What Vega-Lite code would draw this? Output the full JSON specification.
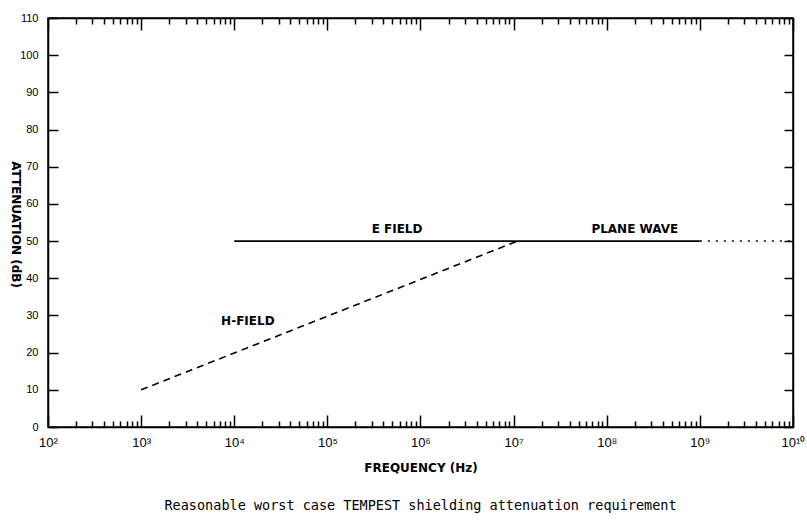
{
  "$schema": "https://vega.github.io/schema/vega-lite/v6.json",
  "width": 745,
  "height": 409,
  "autosize": {"type": "none"},
  "padding": {"left": 48, "top": 18, "right": 14, "bottom": 97},
  "background": "white",
  "config": {
    "view": {"stroke": "black", "strokeWidth": 1.5},
    "axis": {"grid": false, "domainColor": "black", "tickColor": "black", "labelColor": "black", "titleColor": "black", "labelFont": "Liberation Sans", "titleFont": "DejaVu Sans", "labelFontSize": 11, "titleFontSize": 12, "titleFontWeight": "bold", "domainWidth": 1.5, "tickWidth": 1.5}
  },
  "title": {"text": "Reasonable worst case TEMPEST shielding attenuation requirement", "orient": "bottom", "font": "DejaVu Sans Mono", "fontSize": 13.5, "fontWeight": "normal", "color": "black", "offset": 26, "anchor": "middle"},
  "datasets": {
    "lines": [
      {"series": "E FIELD / PLANE WAVE", "freq": 10000, "att": 50},
      {"series": "E FIELD / PLANE WAVE", "freq": 1000000000, "att": 50},
      {"series": "H-FIELD", "freq": 1000, "att": 10},
      {"series": "H-FIELD", "freq": 11000000, "att": 50},
      {"series": "PLANE WAVE extension", "freq": 1000000000, "att": 50},
      {"series": "PLANE WAVE extension", "freq": 10000000000, "att": 50}
    ],
    "labels": [
      {"label": "E FIELD", "freq": 560000, "att": 53.3},
      {"label": "PLANE WAVE", "freq": 200000000, "att": 53.3},
      {"label": "H-FIELD", "freq": 14000, "att": 28.5}
    ]
  },
  "layer": [
    {
      "data": {"name": "lines"},
      "transform": [{"filter": "datum.series === 'E FIELD / PLANE WAVE'"}],
      "mark": {"type": "line", "color": "black", "strokeWidth": 1.6},
      "encoding": {
        "x": {"field": "freq", "type": "quantitative", "scale": {"type": "log", "domain": [100, 10000000000], "nice": false},
          "axis": {"orient": "bottom", "title": "FREQUENCY (Hz)", "titlePadding": 7,
            "values": [100,200,300,400,500,600,700,800,900,1000,2000,3000,4000,5000,6000,7000,8000,9000,10000,20000,30000,40000,50000,60000,70000,80000,90000,100000,200000,300000,400000,500000,600000,700000,800000,900000,1000000,2000000,3000000,4000000,5000000,6000000,7000000,8000000,9000000,10000000,20000000,30000000,40000000,50000000,60000000,70000000,80000000,90000000,100000000,200000000,300000000,400000000,500000000,600000000,700000000,800000000,900000000,1000000000,2000000000,3000000000,4000000000,5000000000,6000000000,7000000000,8000000000,9000000000,10000000000],
            "tickSize": {"condition": {"test": "abs(log(datum.value)/LN10 - round(log(datum.value)/LN10)) < 0.0001", "value": -12}, "value": -6},
            "labelExpr": "abs(log(datum.value)/LN10 - round(log(datum.value)/LN10)) < 0.0001 ? '10' + ['⁰','¹','²','³','⁴','⁵','⁶','⁷','⁸','⁹','¹⁰'][round(log(datum.value)/LN10)] : ''",
            "labelPadding": 21, "labelFontSize": 13, "labelFlush": false, "labelOverlap": false}},
        "y": {"field": "att", "type": "quantitative", "scale": {"domain": [0, 110], "nice": false},
          "axis": {"orient": "left", "title": "ATTENUATION (dB)", "titleAngle": 90, "titleX": -33, "titleY": 206, "titleAlign": "center", "titleBaseline": "middle", "values": [0,10,20,30,40,50,60,70,80,90,100,110], "tickSize": -10, "labelPadding": 20}}
      }
    },
    {
      "data": {"name": "lines"},
      "transform": [{"filter": "datum.series === 'H-FIELD'"}],
      "mark": {"type": "line", "color": "black", "strokeWidth": 1.6, "strokeDash": [7, 5]},
      "encoding": {
        "x": {"field": "freq", "type": "quantitative",
          "axis": {"orient": "top", "title": null, "labels": false,
            "values": [100,200,300,400,500,600,700,800,900,1000,2000,3000,4000,5000,6000,7000,8000,9000,10000,20000,30000,40000,50000,60000,70000,80000,90000,100000,200000,300000,400000,500000,600000,700000,800000,900000,1000000,2000000,3000000,4000000,5000000,6000000,7000000,8000000,9000000,10000000,20000000,30000000,40000000,50000000,60000000,70000000,80000000,90000000,100000000,200000000,300000000,400000000,500000000,600000000,700000000,800000000,900000000,1000000000,2000000000,3000000000,4000000000,5000000000,6000000000,7000000000,8000000000,9000000000,10000000000],
            "tickSize": {"condition": {"test": "abs(log(datum.value)/LN10 - round(log(datum.value)/LN10)) < 0.0001", "value": -12}, "value": -6}}},
        "y": {"field": "att", "type": "quantitative",
          "axis": {"orient": "right", "title": null, "labels": false, "values": [0,10,20,30,40,50,60,70,80,90,100,110], "tickSize": -9}}
      }
    },
    {
      "data": {"name": "lines"},
      "transform": [{"filter": "datum.series === 'PLANE WAVE extension'"}],
      "mark": {"type": "line", "color": "black", "strokeWidth": 1.5, "strokeDash": [2, 6]},
      "encoding": {
        "x": {"field": "freq", "type": "quantitative", "axis": null},
        "y": {"field": "att", "type": "quantitative", "axis": null}
      }
    },
    {
      "data": {"name": "labels"},
      "mark": {"type": "text", "font": "DejaVu Sans", "fontSize": 12, "fontWeight": "bold", "color": "black", "align": "center", "baseline": "middle"},
      "encoding": {
        "x": {"field": "freq", "type": "quantitative", "axis": null},
        "y": {"field": "att", "type": "quantitative", "axis": null},
        "text": {"field": "label"}
      }
    }
  ],
  "resolve": {"axis": {"x": "independent", "y": "independent"}}
}
